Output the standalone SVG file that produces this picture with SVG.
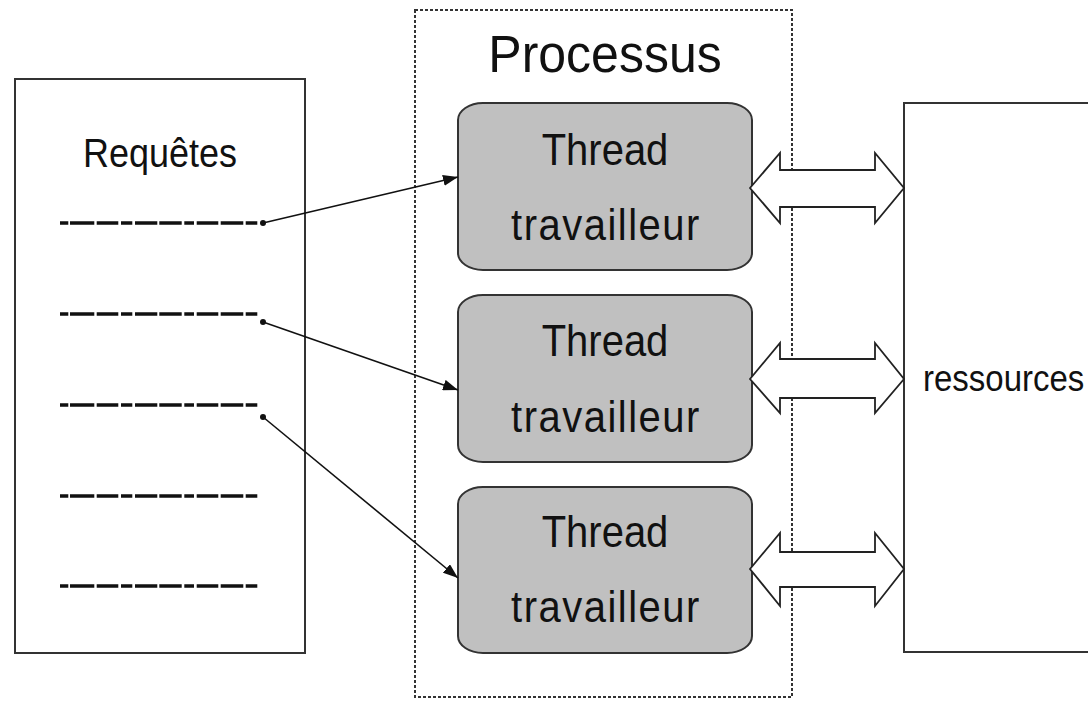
<svg xmlns="http://www.w3.org/2000/svg" width="1088" height="702" viewBox="0 0 1088 702">
<defs>
<style>
.txt{font-family:"Liberation Sans",Arial,sans-serif;fill:#111;text-anchor:middle}
.thread{fill:#c0c0c0;stroke:#333;stroke-width:2}
.tl{font-size:40px}
.tv{font-size:40px;letter-spacing:1.5px}
.req{stroke:#111;stroke-width:3.5;stroke-dasharray:8.3 1.7 24.3 2.4 21.6 2.7 11.3 2.7 22.3 2 22.4 2.6 9.7 2.7 21.6 2.4 22.6 2.4 11.6 10}
.conn{stroke:#111;stroke-width:1.6;fill:none}
.dbl{fill:#fff;stroke:#222;stroke-width:1.8;stroke-linejoin:miter}
</style>
<marker id="ah" viewBox="0 0 15 11" refX="15" refY="5.5" markerWidth="15" markerHeight="11" markerUnits="userSpaceOnUse" orient="auto">
<path d="M0,0 L15,5.5 L0,11 Z" fill="#111"/>
</marker>
</defs>
<rect width="1088" height="702" fill="#fff"/>

<g id="requetes">
<rect x="15" y="79" width="290" height="574" fill="#fff" stroke="#333" stroke-width="2"/>
<text class="txt" transform="translate(160,167) scale(1,1.12)" font-size="36">Requêtes</text>
<line class="req" x1="60" y1="223" x2="258" y2="223"/>
<line class="req" x1="60" y1="314" x2="258" y2="314"/>
<line class="req" x1="60" y1="405" x2="258" y2="405"/>
<line class="req" x1="60" y1="496" x2="258" y2="496"/>
<line class="req" x1="60" y1="586" x2="258" y2="586"/>
</g>

<g id="processus">
<rect x="415" y="10" width="377" height="687" fill="none" stroke="#333" stroke-width="2" stroke-dasharray="3 2"/>
<text class="txt" transform="translate(605,72) scale(1,1.04)" font-size="50">Processus</text>
</g>

<g id="thread1">
<rect class="thread" x="458" y="103" width="294" height="167" rx="25" ry="17"/>
<text class="txt tl" transform="translate(605,165) scale(1,1.12)">Thread</text>
<text class="txt tv" transform="translate(606,240) scale(1,1.12)">travailleur</text>
</g>
<g id="thread2">
<rect class="thread" x="458" y="295" width="294" height="167" rx="25" ry="17"/>
<text class="txt tl" transform="translate(605,356) scale(1,1.12)">Thread</text>
<text class="txt tv" transform="translate(606,432) scale(1,1.12)">travailleur</text>
</g>
<g id="thread3">
<rect class="thread" x="458" y="487" width="294" height="166" rx="25" ry="17"/>
<text class="txt tl" transform="translate(605,547) scale(1,1.12)">Thread</text>
<text class="txt tv" transform="translate(606,622) scale(1,1.12)">travailleur</text>
</g>

<g id="ressources">
<rect x="904" y="103" width="200" height="549" fill="#fff" stroke="#333" stroke-width="2"/>
<text transform="translate(923,391) scale(1,1.12)" font-size="33" style="font-family:'Liberation Sans',Arial,sans-serif;fill:#111">ressources</text>
</g>

<g id="connectors">
<circle cx="263" cy="223" r="3" fill="#111"/>
<line class="conn" x1="263" y1="223" x2="458" y2="177" marker-end="url(#ah)"/>
<circle cx="263" cy="322" r="3" fill="#111"/>
<line class="conn" x1="263" y1="322" x2="458" y2="390" marker-end="url(#ah)"/>
<circle cx="263" cy="417" r="3" fill="#111"/>
<line class="conn" x1="263" y1="417" x2="458" y2="578" marker-end="url(#ah)"/>

<path class="dbl" d="M750,188 L780,153 L780,170 L875,170 L875,153 L904,188 L875,223 L875,207 L780,207 L780,223 Z"/>
<path class="dbl" d="M750,379 L780,343 L780,359 L875,359 L875,343 L904,379 L875,413 L875,398 L780,398 L780,413 Z"/>
<path class="dbl" d="M750,569 L780,533 L780,552 L875,552 L875,533 L904,569 L875,606 L875,587 L780,587 L780,606 Z"/>
</g>
</svg>
